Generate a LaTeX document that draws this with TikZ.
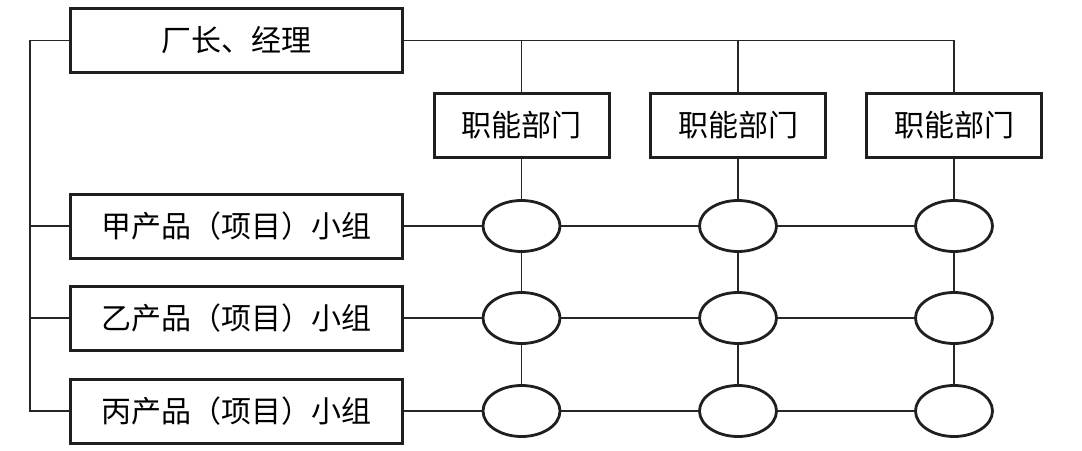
\documentclass[tikz,border=0pt]{standalone}
\usepackage{fontspec}
\newfontfamily\cjk{Noto Sans CJK SC}
\usetikzlibrary{shapes.geometric}
\tikzset{
  box/.style={draw=black!88, line width=1.5pt, rectangle, inner sep=0pt,
    font=\cjk\fontsize{15pt}{18pt}\selectfont},
  bigbox/.style={box, minimum width=166pt, minimum height=32pt},
  fbox/.style={box, minimum width=87.5pt, minimum height=32pt},
  cell/.style={draw=black!88, line width=1.4pt, ellipse, inner sep=0pt,
    minimum width=38.5pt, minimum height=25.5pt},
  link/.style={draw=black!85, line width=0.6pt}
}
\begin{document}
\begin{tikzpicture}[x=0.5pt,y=-0.5pt]
\useasboundingbox (0,0) rectangle (1082,450);
\fill[white] (0,0) rectangle (1082,450);
% boxes
\node[bigbox] (top) at (236.5,40.5) {厂长、经理};
\node[bigbox] (r1) at (236.5,226) {甲产品（项目）小组};
\node[bigbox] (r2) at (236.5,318) {乙产品（项目）小组};
\node[bigbox] (r3) at (236.5,411) {丙产品（项目）小组};
\node[fbox] (f1) at (521.5,125.5) {职能部门};
\node[fbox] (f2) at (738,125.5) {职能部门};
\node[fbox] (f3) at (954,125.5) {职能部门};
% ellipses
\foreach \c/\x in {1/521.5,2/738,3/954}{
  \node[cell] (e1\c) at (\x,226) {};
  \node[cell] (e2\c) at (\x,318) {};
  \node[cell] (e3\c) at (\x,411) {};
}
\coordinate (L) at (30,40.5);
% left trunk
\draw[link] (top.west) -- (L |- top.west) -- (L |- r3.west) -- (r3.west);
\draw[link] (L |- r1.west) -- (r1.west);
\draw[link] (L |- r2.west) -- (r2.west);
% top trunk
\draw[link] (top.east) -- (f3.north |- top.east) -- (f3.north);
\draw[link] (f1.north |- top.east) -- (f1.north);
\draw[link] (f2.north |- top.east) -- (f2.north);
% columns
\foreach \c in {1,2,3}{
  \draw[link] (f\c.south) -- (e1\c.north);
  \draw[link] (e1\c.south) -- (e2\c.north);
  \draw[link] (e2\c.south) -- (e3\c.north);
}
% rows
\foreach \r in {1,2,3}{
  \draw[link] (r\r.east) -- (e\r1.west);
  \draw[link] (e\r1.east) -- (e\r2.west);
  \draw[link] (e\r2.east) -- (e\r3.west);
}
\end{tikzpicture}
\end{document}
